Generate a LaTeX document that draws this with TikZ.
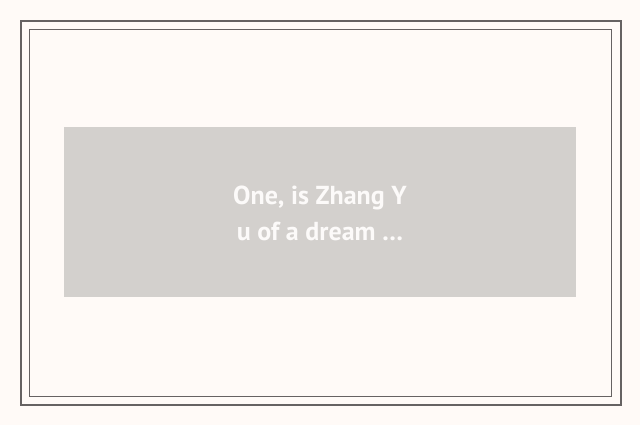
\documentclass[tikz,border=0pt]{standalone}
\usepackage{fontspec}
\setmainfont{PT Sans}
\definecolor{paper}{HTML}{FFFAF7}
\definecolor{frame}{HTML}{666262}
\definecolor{cover}{HTML}{D3D0CD}
\definecolor{caption}{HTML}{FCFAF9}
\begin{document}
\begin{tikzpicture}[x=1pt, y=-1pt]
			%page
			\fill[paper] (0,0) rectangle (640,425);
			\useasboundingbox (0,0) rectangle (640,425);
			
			%frames
			\draw[frame, line width=2pt] (21,21) rectangle (621,405);
			\draw[frame, line width=1pt] (29.5,29.5) rectangle (611.5,396.5);
			
			%cover
			\node (cover) at (320,212) [fill=cover, minimum width=512pt, minimum height=170pt, inner sep=0pt]{};
			\node (title) at (cover.center) [caption, font=\bfseries\fontsize{26}{36}\selectfont, align=center, yshift=-1pt]{One, is Zhang Y\\u of a dream …};
		\end{tikzpicture}
\end{document}
